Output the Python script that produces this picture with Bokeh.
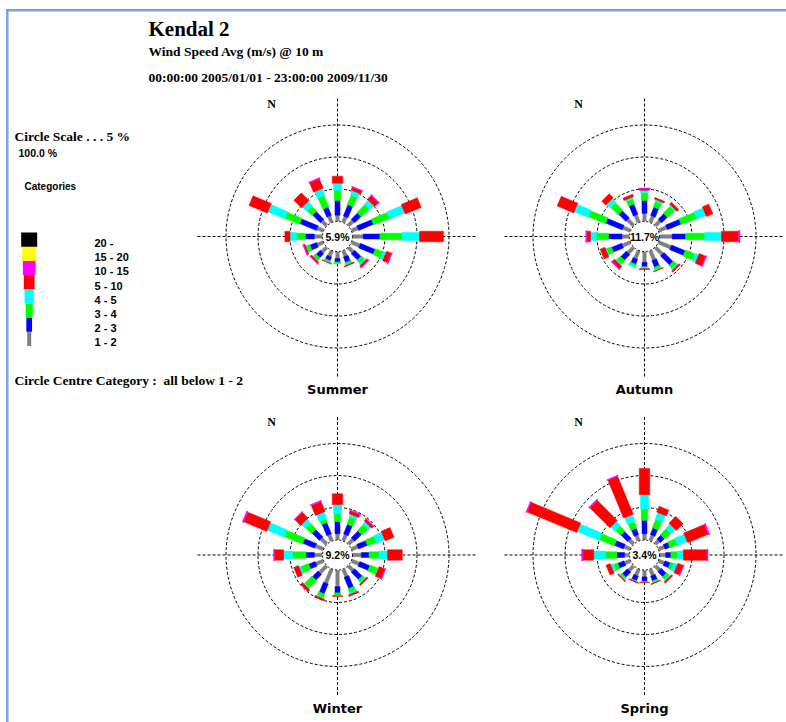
import numpy as np
from bokeh.plotting import figure
from bokeh.models import Range1d
from bokeh.core.properties import value
from bokeh.embed import file_html
from bokeh.resources import INLINE

# ---------------- data ----------------
title = "Kendal 2"
subtitle = "Wind Speed Avg (m/s) @ 10 m"
period = "00:00:00 2005/01/01 - 23:00:00 2009/11/30"
scale_label = "Circle Scale . . . 5 %"
total_label = "100.0 %"
centre_label = "Circle Centre Category : \u00a0all below 1 - 2"

directions = ["N", "NNE", "NE", "ENE", "E", "ESE", "SE", "SSE",
              "S", "SSW", "SW", "WSW", "W", "WNW", "NW", "NNW"]
direction_deg = [0, 22.5, 45, 67.5, 90, 112.5, 135, 157.5,
                 180, 202.5, 225, 247.5, 270, 292.5, 315, 337.5]
categories = ["1 - 2", "2 - 3", "3 - 4", "4 - 5", "5 - 10", "10 - 15", "15 - 20", "20 -"]
seasons = ["Summer", "Autumn", "Winter", "Spring"]
centre_pct = [5.9, 11.7, 9.2, 3.4]
ring_pct = [5, 10, 15]

# frequency (%) per direction for each speed category
summer_1_2 = [0.9, 0.9, 1.0, 1.0, 1.6, 1.3, 1.0, 0.9, 1.0, 0.9, 1.0, 1.0, 1.2, 1.0, 1.0, 1.0]
summer_2_3 = [2.3, 1.9, 1.4, 2.5, 2.6, 2.5, 1.4, 0.9, 0.55, 0.6, 0.9, 1.1, 1.4, 2.8, 1.7, 1.4]
summer_3_4 = [1.6, 1.6, 1.7, 2.7, 3.5, 1.25, 0.6, 0.3, 0.25, 0.25, 0.5, 0.55, 1.4, 2.5, 1.1, 1.9]
summer_4_5 = [1.1, 0.7, 0.9, 2.5, 2.7, 0.5, 0.3, 0.15, 0.05, 0.1, 0.1, 0.1, 1.0, 2.8, 0.9, 1.1]
summer_5_10 = [1.1, 0.5, 0.8, 2.7, 3.75, 0.8, 0.3, 0.15, 0.0, 0.1, 0.25, 0.25, 0.8, 3.1, 1.7, 1.6]
summer_10_15 = [0, 0.1, 0.15, 0, 0, 0.15, 0.1, 0, 0, 0, 0.1, 0.1, 0, 0, 0, 0.15]

autumn_1_2 = [1.2, 1.0, 1.0, 1.3, 1.9, 2.0, 1.5, 1.5, 1.6, 1.3, 1.2, 1.3, 1.1, 1.2, 1.3, 1.2]
autumn_2_3 = [2.0, 1.4, 1.25, 2.3, 2.1, 2.3, 2.0, 1.1, 0.7, 0.8, 1.25, 1.7, 2.1, 2.8, 1.6, 1.7]
autumn_3_4 = [1.2, 0.9, 1.4, 2.6, 3.0, 1.6, 0.6, 0.4, 0.15, 0.3, 0.8, 0.8, 1.9, 2.9, 1.6, 0.8]
autumn_4_5 = [0.4, 0.3, 0.3, 1.5, 2.6, 0.6, 0.3, 0.15, 0.15, 0.25, 0.15, 0.15, 0.9, 2.3, 0.8, 0.3]
autumn_5_10 = [0.25, 0.25, 0.4, 1.1, 2.7, 1.1, 0.25, 0.1, 0.15, 0.0, 0.55, 0.8, 0.6, 2.8, 0.9, 0.4]
autumn_10_15 = [0.1, 0, 0, 0, 0.2, 0.15, 0, 0, 0, 0, 0.1, 0, 0.15, 0, 0, 0]

winter_1_2 = [0.9, 1.0, 1.0, 1.0, 1.3, 1.2, 1.0, 1.2, 2.5, 2.3, 1.5, 1.2, 1.2, 1.3, 1.2, 1.0]
winter_2_3 = [1.9, 1.6, 1.5, 1.5, 1.2, 1.7, 1.6, 1.9, 1.0, 1.7, 1.25, 1.1, 1.3, 2.0, 1.6, 1.9]
winter_3_4 = [1.2, 1.25, 1.3, 1.5, 1.6, 1.25, 0.5, 0.6, 0.4, 0.6, 1.6, 1.25, 2.1, 3.1, 1.3, 0.6]
winter_4_5 = [1.45, 0.4, 0.5, 1.3, 1.3, 0.15, 0.15, 0.3, 0.05, 0.15, 0.15, 0.3, 1.4, 2.8, 0.8, 1.1]
winter_5_10 = [1.7, 0.5, 0.4, 1.5, 2.3, 1.0, 0.25, 0.25, 0.1, 0.25, 0.4, 0.8, 1.45, 3.9, 1.3, 1.7]
winter_10_15 = [0, 0.1, 0.1, 0, 0, 0.1, 0, 0, 0, 0, 0, 0, 0.1, 0.2, 0.1, 0.15]

spring_1_2 = [0.9, 0.9, 0.7, 0.9, 0.9, 0.9, 0.9, 1.0, 1.0, 1.0, 1.0, 0.9, 0.7, 1.0, 0.9, 0.9]
spring_2_3 = [2.1, 1.1, 0.9, 0.8, 0.8, 0.9, 1.1, 0.8, 0.7, 0.8, 1.1, 1.05, 1.2, 1.5, 1.5, 1.05]
spring_3_4 = [1.8, 1.4, 1.3, 1.25, 1.05, 0.5, 0.5, 0.25, 0.1, 0.1, 0.3, 0.7, 1.8, 2.5, 1.1, 1.1]
spring_4_5 = [2.2, 1.1, 0.9, 1.6, 0.9, 0.6, 0.25, 0.1, 0.05, 0.05, 0.15, 0.4, 1.8, 3.7, 0.9, 1.1]
spring_5_10 = [4.1, 1.0, 1.5, 3.5, 3.7, 0.9, 0.25, 0.1, 0.05, 0.1, 0.15, 0.7, 1.7, 8.4, 4.4, 6.4]
spring_10_15 = [0, 0, 0, 0.2, 0.15, 0.1, 0, 0, 0, 0, 0, 0, 0.2, 0.15, 0.2, 0.15]

no_data = [0] * 16  # 15 - 20 and 20 - never occur

season_data = [
    [summer_1_2, summer_2_3, summer_3_4, summer_4_5, summer_5_10, summer_10_15, no_data, no_data],
    [autumn_1_2, autumn_2_3, autumn_3_4, autumn_4_5, autumn_5_10, autumn_10_15, no_data, no_data],
    [winter_1_2, winter_2_3, winter_3_4, winter_4_5, winter_5_10, winter_10_15, no_data, no_data],
    [spring_1_2, spring_2_3, spring_3_4, spring_4_5, spring_5_10, spring_10_15, no_data, no_data],
]

# ---------------- styles / layout ----------------
cat_colors = ["#808080", "#0000ff", "#00ff00", "#00ffff", "#ff0000", "#ff00ff", "#ffff00", "#000000"]
bar_widths = [3.5, 5, 6.5, 8, 10.5, 12, 13.5, 15]
legend_widths = [4, 5.7, 7, 9.3, 10.7, 12.7, 14, 16]
centres = [(337, 236), (644, 236), (337, 554.5), (644, 554.5)]  # page pixels
HOLE = 15.5       # px radius of the centre circle
PX_PER_PCT = 6.4  # px per percent
H = 722

W_FIG, H_FIG = 786, 722
p = figure(width=W_FIG, height=H_FIG, output_backend="svg", toolbar_location=None,
           x_range=Range1d(0, W_FIG), y_range=Range1d(H - H_FIG, H),
           x_axis_location=None, y_axis_location=None, min_border=0)
p.grid.visible = False
p.outline_line_color = None
p.background_fill_color = "white"
p.border_fill_color = "white"


def Y(y):
    return H - y


def txt(x, y, t, font, size, style="bold", align="left", baseline="alphabetic", color="black"):
    p.text(x=[x], y=[Y(y)], text=[t], text_font=value(font), text_font_size=size,
           text_font_style=style, text_align=align, text_baseline=baseline, text_color=color)


# window frame
p.segment(x0=[5.5], y0=[Y(9.8)], x1=[786], y1=[Y(9.8)], line_color="#7aa2dc", line_width=2.5)
p.segment(x0=[6.8], y0=[Y(9)], x1=[6.8], y1=[Y(722)], line_color="#7aa2dc", line_width=2.5)

# header texts
txt(148, 28, title, "Liberation Serif", "21px")
txt(148, 51, subtitle, "Liberation Serif", "13.5px")
txt(148, 77, period, "Liberation Serif", "13.5px")
txt(14, 135.5, scale_label, "Liberation Serif", "13.5px")
txt(18, 152, total_label, "Liberation Sans", "10.5px")
txt(24, 186, "Categories", "Liberation Sans", "10px")
txt(14, 380, centre_label, "Liberation Serif", "13.5px")

# legend
step = 14.16
leg_y = [Y(338.3 - step * c) for c in range(8)]
p.rect(x=[28.7] * 8, y=leg_y, width=legend_widths, height=[step] * 8,
       fill_color=cat_colors, line_color=None)
p.text(x=[94] * 8, y=[Y(341.7 - step * c) for c in range(8)], text=categories,
       text_font=value("Liberation Sans"), text_font_size="11px", text_font_style="bold",
       text_baseline="alphabetic", text_color="black")

theta = np.radians(direction_deg)

for s, (cx, cyp) in enumerate(centres):
    cy = Y(cyp)
    reach = 140
    # cross lines
    p.segment(x0=[cx - reach, cx], y0=[cy, cy - reach], x1=[cx + reach, cx], y1=[cy, cy + reach],
              line_color="black", line_width=1, line_dash="3 2")
    # scale rings
    p.circle(x=[cx] * len(ring_pct), y=[cy] * len(ring_pct),
             radius=[HOLE + r * PX_PER_PCT for r in ring_pct],
             fill_color=None, line_color="black", line_width=1, line_dash="3 2")
    # stacked spokes
    cum = np.zeros(16)
    for c, vals in enumerate(season_data[s]):
        v = np.array(vals, dtype=float)
        r_in = HOLE + cum * PX_PER_PCT
        cum = cum + v
        r_out = HOLE + cum * PX_PER_PCT
        m = v > 0
        if not m.any():
            continue
        rm = (r_in + r_out) / 2
        p.rect(x=(cx + rm * np.sin(theta))[m], y=(cy + rm * np.cos(theta))[m],
               width=(r_out - r_in)[m], height=bar_widths[c],
               angle=(np.pi / 2 - theta)[m],
               fill_color=cat_colors[c], line_color=cat_colors[c], line_width=0.5)
    # centre circle
    p.circle(x=[cx], y=[cy], radius=HOLE - 0.5, fill_color="white",
             line_color="black", line_width=1, line_dash="2 2")
    txt(cx, cyp, f"{centre_pct[s]}%", "Liberation Sans", "10.5px", align="center", baseline="middle")
    txt(cx - 66, cyp - 133, "N", "Liberation Serif", "12px", align="center", baseline="middle")
    txt(cx, cyp + 153, seasons[s], "DejaVu Sans", "13px", align="center")

open("out.html", "w").write(file_html(p, INLINE))
